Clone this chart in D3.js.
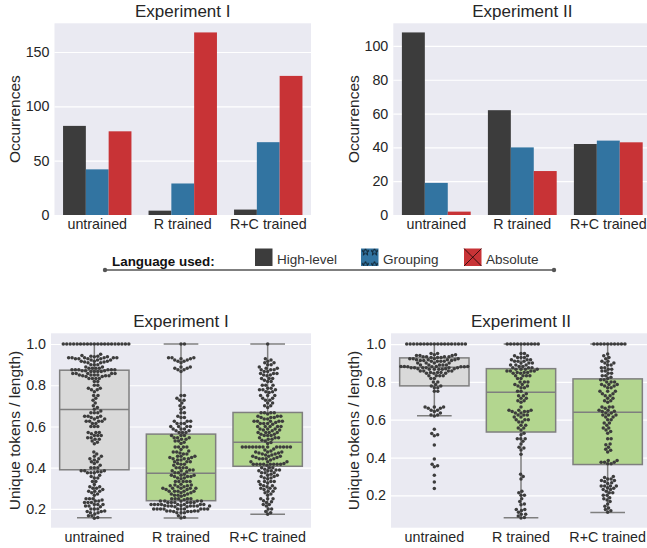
<!DOCTYPE html>
<html><head><meta charset="utf-8">
<script src="https://cdn.jsdelivr.net/npm/d3@7"></script>
<style>body{margin:0;background:#fff;}svg{display:block;font-family:"Liberation Sans",Arial,sans-serif;}</style>
</head><body><svg id="c" width="647" height="548"></svg>
<script>
// ---------- data ----------
const categories = ["untrained", "R trained", "R+C trained"];
const languages = ["High-level", "Grouping", "Absolute"];
const exp1HighLevel = [82, 4, 5];
const exp1Grouping = [42, 29, 67];
const exp1Absolute = [77, 168, 128];
const exp2HighLevel = [108, 62, 42];
const exp2Grouping = [19, 40, 44];
const exp2Absolute = [2, 26, 43];
const exp1BarTicks = [0, 50, 100, 150];
const exp2BarTicks = [0, 20, 40, 60, 80, 100];
const ratioTicks = [0.2, 0.4, 0.6, 0.8, 1.0];
// box statistics
const exp1Q1 = [0.39, 0.24, 0.407];
const exp1Median = [0.682, 0.373, 0.524];
const exp1Q3 = [0.873, 0.563, 0.668];
const exp1WhiskerLow = [0.157, 0.156, 0.174];
const exp1WhiskerHigh = [1.0, 1.0, 1.0];
const exp2Q1 = [0.779, 0.535, 0.363];
const exp2Median = [0.878, 0.745, 0.639];
const exp2Q3 = [0.927, 0.870, 0.816];
const exp2WhiskerLow = [0.621, 0.081, 0.110];
const exp2WhiskerHigh = [1.0, 1.0, 1.0];
// individual observations (unique tokens / length)
const exp1Untrained = [
1,1,1,1,1,1,1,1,1,1,1,1,1,1,1,1,1,1,1,1,
0.95,0.944,0.941,0.941,0.938,0.938,0.933,0.933,0.933,0.933,0.933,0.933,0.929,0.929,0.929,0.929,0.923,0.923,0.923,0.917,0.917,0.917,0.913,0.913,0.909,0.909,0.9,0.9,0.9,0.889,0.889,
0.882,0.882,0.882,0.882,0.875,0.875,0.875,0.875,0.875,0.875,0.87,0.87,0.87,0.867,0.867,0.867,0.867,0.857,0.857,0.857,0.857,0.857,0.85,0.85,0.85,0.85,0.846,0.846,0.846,0.842,0.842,0.833,0.833,0.833,0.833,0.818,0.818,0.8,0.8,0.786,0.786,0.778,0.778,0.769,0.75,0.75,0.737,0.727,0.714,0.7,
0.692,0.684,0.675,0.667,0.667,0.667,0.65,0.65,0.65,0.643,0.643,0.636,0.636,0.625,0.625,0.625,0.625,0.615,0.615,0.6,0.6,0.6,
0.571,0.571,0.571,0.565,0.556,0.556,0.556,0.545,0.545,0.538,0.538,0.529,0.524,0.516,
0.476,0.467,0.455,0.455,0.444,0.444,0.438,0.429,0.429,0.42,0.412,0.4,0.4,0.4,
0.385,0.385,0.385,0.38,0.38,0.375,0.375,0.375,0.364,0.357,0.35,0.35,0.333,0.333,0.318,
0.308,0.308,0.3,0.3,0.294,0.286,0.286,0.286,0.278,0.273,0.267,0.25,0.25,0.25,0.243,0.238,0.238,0.231,0.231,0.231,0.222,0.222,0.222,0.214,0.214,0.211,0.2,0.2,0.2,0.19,0.188,0.188,0.182,0.182,0.176,0.167,0.167,0.158,0.155
];
const exp1RTrained = [
1,1,
0.933,0.933,0.933,0.929,0.929,0.923,0.923,0.917,0.917,0.909,
0.889,0.889,0.882,0.882,0.875,0.875,0.867,
0.75,0.75,0.737,0.727,0.727,0.714,0.7,0.692,0.684,0.667,0.667,0.65,0.643,0.643,
0.625,0.625,0.625,0.615,0.615,0.615,0.6,0.6,0.6,0.6,0.588,0.588,0.588,0.579,0.579,0.571,0.571,0.571,
0.556,0.556,0.556,0.545,0.545,0.545,0.538,0.538,0.529,0.529,0.524,0.517,0.5,0.5,0.5,0.5,0.488,0.481,0.476,0.476,0.471,0.467,0.467,0.455,0.455,0.455,0.45,0.45,0.444,0.444,0.444,0.438,0.438,0.429,0.429,0.429,0.421,0.417,0.417,0.412,0.4,0.4,0.4,0.4,0.389,0.389,0.385,0.385,0.38,
0.375,0.375,0.368,0.364,0.364,0.364,0.357,0.357,0.357,0.35,0.35,0.346,0.333,0.333,0.333,0.333,0.333,0.32,0.316,0.316,0.312,0.312,0.308,0.308,0.3,0.3,0.3,0.3,0.3,0.294,0.294,0.286,0.286,0.286,0.286,0.286,0.278,0.278,0.273,0.273,0.267,0.267,0.267,0.261,0.25,0.25,0.25,0.25,0.25,0.245,
0.238,0.238,0.238,0.238,0.238,0.231,0.231,0.231,0.231,0.231,0.231,0.222,0.222,0.222,0.222,0.222,0.222,0.222,0.222,0.217,0.217,0.214,0.214,0.214,0.214,0.214,0.214,0.211,0.211,0.2,0.2,0.2,0.2,0.2,0.2,0.2,0.2,0.2,0.2,0.19,0.19,0.19,0.19,0.188,0.188,0.188,0.182,0.182,0.182,0.167,0.16,0.156
];
const exp1RCTrained = [
1,
0.929,0.923,0.917,0.909,0.909,0.9,0.9,0.889,
0.882,0.882,0.875,0.875,0.875,0.867,0.867,0.857,0.857,0.857,0.85,0.85,0.846,0.833,0.833,0.833,0.824,0.818,0.818,
0.8,0.8,0.8,0.786,0.786,0.778,0.778,0.778,0.769,0.769,0.765,0.75,0.75,0.75,0.737,0.737,0.727,0.727,0.714,0.714,0.7,0.7,0.692,
0.667,0.667,0.667,0.667,0.66,0.65,0.65,0.65,0.643,0.643,0.643,0.636,0.636,0.625,0.625,0.625,0.625,0.625,0.619,0.615,0.615,0.615,0.611,0.6,0.6,0.6,0.6,0.6,0.588,0.588,0.588,0.583,0.583,0.579,0.571,0.571,0.571,0.571,0.562,0.562,0.556,0.556,0.556,0.545,0.545,0.545,0.538,0.538,0.533,0.529,
0.522,0.517,0.5,0.5,0.5,0.5,0.5,0.5,0.5,0.5,0.5,0.5,0.5,0.5,0.5,0.491,0.486,0.481,0.476,0.476,0.476,0.471,0.471,0.467,0.467,0.462,0.462,0.455,0.455,0.455,0.45,0.45,0.444,0.444,0.444,0.444,0.438,0.429,0.429,0.429,0.421,0.417,0.417,0.417,0.417,0.417,0.417,0.417,0.417,0.412,
0.4,0.4,0.4,0.393,0.389,0.389,0.385,0.385,0.385,0.375,0.375,0.375,0.368,0.364,0.364,0.357,0.357,0.35,0.35,0.346,0.333,0.333,0.333,0.333,0.326,0.318,0.312,0.312,0.308,0.3,0.3,0.3,0.294,0.286,0.286,0.278,0.273,0.267,0.25,0.25,0.25,0.24,0.235,0.231,0.222,0.222,0.214,0.2,0.2,0.188,0.182,0.174
];
const exp2Untrained = [
1,1,1,1,1,1,1,1,1,1,1,1,1,1,1,1,1,1,
0.95,0.95,0.944,0.944,0.94,0.94,0.94,0.933,0.933,0.933,0.933,0.929,0.929,0.929,
0.923,0.923,0.923,0.923,0.917,0.917,0.917,0.917,0.913,0.913,0.913,0.909,0.909,0.909,0.909,0.9,0.9,0.9,0.9,0.889,0.889,0.889,0.889,0.889,0.882,0.882,0.882,0.882,0.88,0.88,0.88,0.88,
0.875,0.875,0.875,0.875,0.875,0.875,0.87,0.87,0.87,0.867,0.867,0.867,0.867,0.857,0.857,0.857,0.857,0.85,0.85,0.85,0.846,0.846,0.846,0.833,0.833,0.833,0.833,0.818,0.818,0.8,0.8,0.786,
0.778,0.778,0.769,0.769,0.75,0.75,
0.667,0.667,0.667,0.66,0.66,0.65,0.65,0.643,0.636,0.625,0.625,0.62,
0.549,0.527,0.52,0.515,0.466,0.392,0.365,0.357,0.351,0.307,0.271,0.236
];
const exp2RTrained = [
1,1,1,1,1,1,1,1,1,1,
0.95,0.95,0.938,0.938,0.929,0.929,0.929,0.917,0.917,0.917,0.909,0.909,0.909,0.9,0.9,0.9,0.889,0.889,0.889,0.882,0.882,0.875,0.875,0.875,
0.867,0.867,0.867,0.867,0.857,0.857,0.857,0.857,0.85,0.85,0.85,0.846,0.846,0.833,0.833,0.833,0.833,0.818,0.818,0.8,0.8,0.8,0.786,0.786,0.778,0.778,0.769,0.769,0.75,0.75,
0.737,0.727,0.727,0.714,0.714,0.7,0.7,0.692,0.667,0.65,0.65,0.65,0.643,0.643,0.643,0.636,0.636,0.625,0.625,0.625,0.615,0.615,0.6,0.6,0.6,0.588,0.588,0.571,0.571,0.556,0.556,0.545,
0.529,0.52,0.5,0.5,0.5,0.486,0.471,0.455,0.45,0.44,0.417,0.312,0.3,0.286,0.222,0.214,0.2,0.2,0.182,0.167,0.154,0.15,0.125,0.125,0.12,0.111,0.1,0.1,0.091,0.083,0.08
];
const exp2RCTrained = [
1,1,1,1,1,1,1,1,1,1,
0.947,0.938,0.929,0.923,0.909,0.909,0.9,0.9,0.889,0.889,0.875,0.875,0.867,0.867,0.857,0.857,0.846,0.846,0.833,0.833,0.824,0.818,
0.812,0.812,0.8,0.8,0.8,0.786,0.786,0.786,0.778,0.778,0.769,0.769,0.75,0.75,0.75,0.737,0.737,0.727,0.727,0.714,0.714,0.7,0.7,0.692,0.667,0.667,0.667,0.66,0.65,0.65,0.645,0.643,
0.636,0.636,0.625,0.625,0.625,0.615,0.615,0.6,0.6,0.583,0.583,0.571,0.556,0.556,0.545,0.538,0.529,0.5,0.5,0.471,0.467,0.455,0.444,0.438,0.429,0.385,0.385,0.375,0.375,0.375,0.367,0.367,
0.3,0.294,0.286,0.286,0.278,0.278,0.273,0.267,0.263,0.25,0.25,0.25,0.25,0.24,0.238,0.231,0.231,0.222,0.214,0.214,0.2,0.2,0.188,0.182,0.176,0.167,0.154,0.143,0.133,0.125,0.118,0.111
];

// ---------- style ----------
const BG = "#eaeaf2", TXT = "#262626";
const barColors = ["#3c3c3c", "#3274a1", "#c83336"];
const boxFills = ["#d9d9d9", "#b3d68f", "#b3d68f"];
const boxEdge = "#7f7f7f";
const dotColor = "#3d3d3d";
const TICK_FS = 14.3, LABEL_FS = 15.5, TITLE_FS = 17;

const svg = d3.select("#c");
svg.append("rect").attr("width", 647).attr("height", 548).attr("fill", "#fff");

function frame(p, y, ticks, fmt, title, ylabel) {
  const g = svg.append("g");
  g.append("rect").attr("x", p.x0).attr("y", p.y0).attr("width", p.x1 - p.x0).attr("height", p.y1 - p.y0).attr("fill", BG);
  const grid = g.append("g").attr("transform", `translate(${p.x0},0)`)
    .call(d3.axisLeft(y).tickValues(ticks).tickSize(-(p.x1 - p.x0)).tickFormat(""));
  grid.select(".domain").remove();
  grid.selectAll("line").attr("stroke", "#fff").attr("stroke-width", 1.2);
  const ya = g.append("g").attr("transform", `translate(${p.x0},0)`)
    .call(d3.axisLeft(y).tickValues(ticks).tickSize(0).tickPadding(5).tickFormat(fmt));
  ya.select(".domain").remove();
  ya.selectAll("text").attr("fill", TXT).attr("font-size", TICK_FS).attr("font-family", "Liberation Sans, Arial, sans-serif");
  const x = d3.scaleBand().domain(categories).range([p.x0, p.x1]).paddingInner(0.2).paddingOuter(0.1);
  const xa = g.append("g").attr("transform", `translate(0,${p.y1})`)
    .call(d3.axisBottom(x).tickSize(0).tickPadding(4.3));
  xa.select(".domain").remove();
  xa.selectAll("text").attr("fill", TXT).attr("font-size", TICK_FS).attr("font-family", "Liberation Sans, Arial, sans-serif");
  g.append("text").attr("x", (p.x0 + p.x1) / 2).attr("y", p.y0 - 6).attr("text-anchor", "middle")
    .attr("font-size", TITLE_FS).attr("fill", TXT).text(title);
  g.append("text").attr("transform", `translate(${p.lx},${(p.y0 + p.y1) / 2}) rotate(-90)`)
    .attr("text-anchor", "middle").attr("dy", "0.36em").attr("font-size", LABEL_FS).attr("fill", TXT).text(ylabel);
  return {g, x};
}

function barPanel(p, yMax, ticks, series, title) {
  const y = d3.scaleLinear().domain([0, yMax]).range([p.y1, p.y0]);
  const {g, x} = frame(p, y, ticks, d3.format("d"), title, "Occurrences");
  const xi = d3.scaleBand().domain(languages).range([0, x.bandwidth()]);
  series.forEach((vals, li) => {
    g.append("g").selectAll("rect").data(vals).join("rect")
      .attr("x", (d, i) => x(categories[i]) + xi(languages[li]))
      .attr("width", xi.bandwidth())
      .attr("y", d => y(d))
      .attr("height", d => y(0) - y(d))
      .attr("fill", barColors[li]);
  });
}

function beeswarm(values, y, d) {
  const pts = values.map(v => ({v, y: y(v), x: 0})).sort((a, b) => a.v - b.v);
  const placed = [];
  const d2 = d * d;
  for (const p of pts) {
    const nb = placed.filter(q => Math.abs(q.y - p.y) < d);
    const cands = [0];
    for (const q of nb) {
      const dx = Math.sqrt(Math.max(0, d2 - (q.y - p.y) ** 2));
      cands.push(q.x + dx, q.x - dx);
    }
    cands.sort((a, b) => Math.abs(a) - Math.abs(b) || b - a);
    for (const c of cands) {
      if (nb.every(q => (q.x - c) ** 2 + (q.y - p.y) ** 2 >= d2 - 1e-6)) { p.x = c; break; }
    }
    placed.push(p);
  }
  return placed;
}

function boxPanel(p, domain, stats, groups, title) {
  const y = d3.scaleLinear().domain(domain).range([p.y1, p.y0]);
  const {g, x} = frame(p, y, ratioTicks, d3.format(".1f"), title, "Unique tokens / length)");
  const bw = x.bandwidth();
  categories.forEach((c, i) => {
    const cx = x(c) + bw / 2;
    const b = g.append("g").attr("stroke", boxEdge).attr("stroke-width", 1.5).attr("fill", "none");
    b.append("line").attr("x1", cx).attr("x2", cx).attr("y1", y(stats.q3[i])).attr("y2", y(stats.hi[i]));
    b.append("line").attr("x1", cx).attr("x2", cx).attr("y1", y(stats.q1[i])).attr("y2", y(stats.lo[i]));
    b.append("line").attr("x1", cx - bw / 4).attr("x2", cx + bw / 4).attr("y1", y(stats.hi[i])).attr("y2", y(stats.hi[i]));
    b.append("line").attr("x1", cx - bw / 4).attr("x2", cx + bw / 4).attr("y1", y(stats.lo[i])).attr("y2", y(stats.lo[i]));
    b.append("rect").attr("x", x(c)).attr("width", bw).attr("y", y(stats.q3[i]))
      .attr("height", y(stats.q1[i]) - y(stats.q3[i])).attr("fill", boxFills[i]);
    b.append("line").attr("x1", x(c)).attr("x2", x(c) + bw).attr("y1", y(stats.med[i])).attr("y2", y(stats.med[i]));
    const pts = beeswarm(groups[i], y, 3.45);
    g.append("g").selectAll("circle").data(pts).join("circle")
      .attr("cx", d => cx + d.x).attr("cy", d => d.y).attr("r", 1.75).attr("fill", dotColor);
  });
}

barPanel({x0: 54.5, x1: 311, y0: 23.3, y1: 215, lx: 14}, 176.4, exp1BarTicks,
  [exp1HighLevel, exp1Grouping, exp1Absolute], "Experiment I");
barPanel({x0: 393.3, x1: 651.3, y0: 23.3, y1: 215, lx: 353.3}, 113.4, exp2BarTicks,
  [exp2HighLevel, exp2Grouping, exp2Absolute], "Experiment II");
boxPanel({x0: 51, x1: 311, y0: 333.3, y1: 527.7, lx: 14.5}, [0.109, 1.052],
  {q1: exp1Q1, med: exp1Median, q3: exp1Q3, lo: exp1WhiskerLow, hi: exp1WhiskerHigh},
  [exp1Untrained, exp1RTrained, exp1RCTrained], "Experiment I");
boxPanel({x0: 391, x1: 651, y0: 333.3, y1: 527.7, lx: 353.5}, [0.029, 1.057],
  {q1: exp2Q1, med: exp2Median, q3: exp2Q3, lo: exp2WhiskerLow, hi: exp2WhiskerHigh},
  [exp2Untrained, exp2RTrained, exp2RCTrained], "Experiment II");

// ---------- legend ----------
const defs = svg.append("defs");
const star = defs.append("pattern").attr("id", "stars").attr("patternUnits", "userSpaceOnUse")
  .attr("x", 361).attr("y", 248.5).attr("width", 9).attr("height", 13);
star.append("rect").attr("width", 9).attr("height", 13).attr("fill", barColors[1]);
star.append("path").attr("d", d3.symbol(d3.symbolStar, 16)()).attr("transform", "translate(4.5,3.4)")
  .attr("fill", "none").attr("stroke", "#000").attr("stroke-width", 0.7);
const lg = svg.append("g");
lg.append("line").attr("x1", 105).attr("x2", 554).attr("y1", 270).attr("y2", 270).attr("stroke", "#555").attr("stroke-width", 1.4);
lg.selectAll("circle").data([105, 554]).join("circle").attr("cx", d => d).attr("cy", 270).attr("r", 2.2).attr("fill", "#555");
lg.append("text").attr("x", 112).attr("y", 265.5).attr("font-size", 13.4).attr("font-weight", "bold").attr("fill", "#111").text("Language used:");
const legX = [255, 361, 464];
const legFill = [barColors[0], "url(#stars)", barColors[2]];
languages.forEach((l, i) => {
  lg.append("rect").attr("x", legX[i]).attr("y", 248.5).attr("width", 17.5).attr("height", 17.5).attr("fill", legFill[i]);
  lg.append("text").attr("x", legX[i] + 22).attr("y", 263.5).attr("font-size", 13.5).attr("fill", "#333").text(l);
});
lg.append("path").attr("d", `M${legX[2]},248.5L${legX[2] + 17.5},266M${legX[2] + 17.5},248.5L${legX[2]},266`)
  .attr("stroke", "#000").attr("stroke-width", 0.7);
</script></body></html>
